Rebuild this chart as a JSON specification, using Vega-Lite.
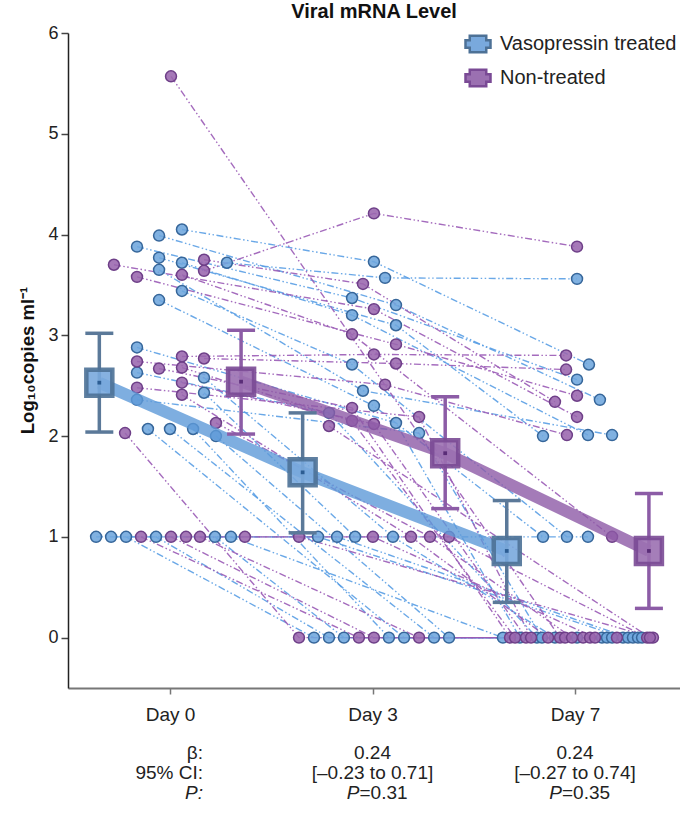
{
  "$schema": "https://vega.github.io/schema/vega-lite/v6.json",
  "width": 612,
  "height": 655,
  "autosize": {"type": "none"},
  "padding": {"left": 68, "top": 33, "right": 0, "bottom": 126},
  "background": "white",
  "title": {"text": "Viral mRNA Level", "font": "Liberation Sans", "fontSize": 20, "fontWeight": "bold", "color": "#111", "anchor": "middle", "frame": "group", "offset": 2},
  "config": {
    "view": {"stroke": null},
    "font": "Liberation Sans",
    "axis": {"grid": false, "labelFont": "Liberation Sans", "titleFont": "Liberation Sans"},
    "axisX": {"domainColor": "#777", "domainWidth": 2, "tickColor": "#777", "tickSize": 6, "tickWidth": 1.5, "labelFontSize": 19, "labelColor": "#222", "labelPadding": 11},
    "axisY": {"domainColor": "#222", "domainWidth": 1.5, "tickColor": "#444", "tickSize": 7, "tickWidth": 1.5, "labelFontSize": 18, "labelColor": "#222", "labelPadding": 3, "titleFontSize": 18.5, "titleFontWeight": "bold", "titleColor": "#111", "titleX": -35, "titleY": 327, "titleBaseline": "alphabetic", "titleAngle": 270},
    "legend": {"orient": "none", "legendX": 396, "legendY": -3, "padding": 0, "labelFontSize": 20, "labelFont": "Liberation Sans", "labelColor": "#222", "labelOffset": 8, "labelLimit": 0, "rowPadding": 6, "symbolSize": 625, "symbolStrokeWidth": 2.5, "symbolType": "M-1,-0.3H-0.66V-0.66H0.66V-0.3H1V0.3H0.66V0.66H-0.66V0.3H-1Z"}
  },
  "datasets": {
    "pts": [
      {"id": "B1", "g": "V", "pos": 5.9, "v": 4.05}, {"id": "B1", "g": "V", "pos": 100.7, "v": 3.73}, {"id": "B1", "g": "V", "pos": 206.9, "v": 2.71},
      {"id": "B2", "g": "V", "pos": -5.4, "v": 3.99}, {"id": "B2", "g": "V", "pos": 111.6, "v": 3.30}, {"id": "B2", "g": "V", "pos": 212.3, "v": 2.36},
      {"id": "B3", "g": "V", "pos": -16.3, "v": 3.88}, {"id": "B3", "g": "V", "pos": 89.9, "v": 3.37}, {"id": "B3", "g": "V", "pos": 201.0, "v": 2.56},
      {"id": "B4", "g": "V", "pos": -5.4, "v": 3.77}, {"id": "B4", "g": "V", "pos": 111.6, "v": 3.10}, {"id": "B4", "g": "V", "pos": 184.2, "v": 2.00},
      {"id": "B5", "g": "V", "pos": 5.9, "v": 3.72}, {"id": "B5", "g": "V", "pos": 89.9, "v": 3.20}, {"id": "B5", "g": "V", "pos": 206.4, "v": 2.01},
      {"id": "B6", "g": "V", "pos": 28.1, "v": 3.72}, {"id": "B6", "g": "V", "pos": 106.2, "v": 3.57}, {"id": "B6", "g": "V", "pos": 201.0, "v": 3.56},
      {"id": "B7", "g": "V", "pos": -5.4, "v": 3.65}, {"id": "B7", "g": "V", "pos": 95.3, "v": 2.45}, {"id": "B7", "g": "V", "pos": 218.3, "v": 2.01},
      {"id": "B8", "g": "V", "pos": 5.9, "v": 3.44}, {"id": "B8", "g": "V", "pos": 89.9, "v": 2.71}, {"id": "B8", "g": "V", "pos": 196.0, "v": 1},
      {"id": "B9", "g": "V", "pos": -5.4, "v": 3.35}, {"id": "B9", "g": "V", "pos": 100.7, "v": 2.30}, {"id": "B9", "g": "V", "pos": 184.2, "v": 1},
      {"id": "B10", "g": "V", "pos": -16.3, "v": 2.88}, {"id": "B10", "g": "V", "pos": 111.6, "v": 2.13}, {"id": "B10", "g": "V", "pos": 172.8, "v": 0},
      {"id": "B11", "g": "V", "pos": -16.3, "v": 2.63}, {"id": "B11", "g": "V", "pos": 78.5, "v": 2.23}, {"id": "B11", "g": "V", "pos": 181.2, "v": 0},
      {"id": "B12", "g": "V", "pos": -16.3, "v": 2.36}, {"id": "B12", "g": "V", "pos": 123.0, "v": 2.03}, {"id": "B12", "g": "V", "pos": 183.7, "v": 0},
      {"id": "B13", "g": "V", "pos": 16.8, "v": 2.58}, {"id": "B13", "g": "V", "pos": 110.1, "v": 1}, {"id": "B13", "g": "V", "pos": 190.1, "v": 0},
      {"id": "B14", "g": "V", "pos": 16.8, "v": 2.43}, {"id": "B14", "g": "V", "pos": 91.4, "v": 1}, {"id": "B14", "g": "V", "pos": 206.4, "v": 1},
      {"id": "B15", "g": "V", "pos": -10.9, "v": 2.07}, {"id": "B15", "g": "V", "pos": 115.6, "v": 0}, {"id": "B15", "g": "V", "pos": 201.0, "v": 0},
      {"id": "B16", "g": "V", "pos": 0, "v": 2.07}, {"id": "B16", "g": "V", "pos": 130.4, "v": 0}, {"id": "B16", "g": "V", "pos": 213.3, "v": 0},
      {"id": "B17", "g": "V", "pos": 11.4, "v": 2.07}, {"id": "B17", "g": "V", "pos": 108.1, "v": 0}, {"id": "B17", "g": "V", "pos": 215.8, "v": 0},
      {"id": "B18", "g": "V", "pos": 22.7, "v": 2.00}, {"id": "B18", "g": "V", "pos": 137.8, "v": 0}, {"id": "B18", "g": "V", "pos": 218.3, "v": 0},
      {"id": "B19", "g": "V", "pos": -36.5, "v": 1}, {"id": "B19", "g": "V", "pos": 73.1, "v": 1}, {"id": "B19", "g": "V", "pos": 223.7, "v": 0},
      {"id": "B20", "g": "V", "pos": -29.1, "v": 1}, {"id": "B20", "g": "V", "pos": 82.5, "v": 1}, {"id": "B20", "g": "V", "pos": 226.2, "v": 0},
      {"id": "B21", "g": "V", "pos": -21.7, "v": 1}, {"id": "B21", "g": "V", "pos": 71.1, "v": 0}, {"id": "B21", "g": "V", "pos": 228.6, "v": 0},
      {"id": "B22", "g": "V", "pos": -6.9, "v": 1}, {"id": "B22", "g": "V", "pos": 78.5, "v": 0}, {"id": "B22", "g": "V", "pos": 231.1, "v": 0},
      {"id": "B23", "g": "V", "pos": 22.2, "v": 1}, {"id": "B23", "g": "V", "pos": 85.9, "v": 0}, {"id": "B23", "g": "V", "pos": 233.1, "v": 0},
      {"id": "B24", "g": "V", "pos": 30.1, "v": 1}, {"id": "B24", "g": "V", "pos": 164.4, "v": 0},
      {"id": "N1", "g": "N", "pos": 0.5, "v": 5.57}, {"id": "N1", "g": "N", "pos": 192.6, "v": 0},
      {"id": "N2", "g": "N", "pos": 16.8, "v": 3.64}, {"id": "N2", "g": "N", "pos": 100.7, "v": 4.21}, {"id": "N2", "g": "N", "pos": 201.0, "v": 3.88},
      {"id": "N3", "g": "N", "pos": -27.7, "v": 3.70}, {"id": "N3", "g": "N", "pos": 100.7, "v": 3.26}, {"id": "N3", "g": "N", "pos": 201.0, "v": 2.19},
      {"id": "N4", "g": "N", "pos": 16.8, "v": 3.75}, {"id": "N4", "g": "N", "pos": 95.3, "v": 3.51}, {"id": "N4", "g": "N", "pos": 190.1, "v": 2.34},
      {"id": "N5", "g": "N", "pos": -16.3, "v": 3.58}, {"id": "N5", "g": "N", "pos": 111.6, "v": 2.91}, {"id": "N5", "g": "N", "pos": 201.0, "v": 2.40},
      {"id": "N6", "g": "N", "pos": 5.9, "v": 3.60}, {"id": "N6", "g": "N", "pos": 89.9, "v": 3.01}, {"id": "N6", "g": "N", "pos": 218.3, "v": 1},
      {"id": "N7", "g": "N", "pos": 5.9, "v": 2.79}, {"id": "N7", "g": "N", "pos": 100.7, "v": 2.81}, {"id": "N7", "g": "N", "pos": 195.6, "v": 2.80},
      {"id": "N8", "g": "N", "pos": 16.8, "v": 2.77}, {"id": "N8", "g": "N", "pos": 111.6, "v": 2.72}, {"id": "N8", "g": "N", "pos": 195.6, "v": 2.66},
      {"id": "N9", "g": "N", "pos": -16.3, "v": 2.74}, {"id": "N9", "g": "N", "pos": 106.2, "v": 2.51}, {"id": "N9", "g": "N", "pos": 196.0, "v": 2.01},
      {"id": "N10", "g": "N", "pos": -5.4, "v": 2.67}, {"id": "N10", "g": "N", "pos": 89.9, "v": 2.28}, {"id": "N10", "g": "N", "pos": 167.9, "v": 0},
      {"id": "N11", "g": "N", "pos": 5.9, "v": 2.68}, {"id": "N11", "g": "N", "pos": 89.9, "v": 2.15}, {"id": "N11", "g": "N", "pos": 170.4, "v": 0},
      {"id": "N12", "g": "N", "pos": 5.9, "v": 2.53}, {"id": "N12", "g": "N", "pos": 100.7, "v": 2.12}, {"id": "N12", "g": "N", "pos": 175.8, "v": 0},
      {"id": "N13", "g": "N", "pos": -16.3, "v": 2.48}, {"id": "N13", "g": "N", "pos": 123.0, "v": 2.19}, {"id": "N13", "g": "N", "pos": 178.3, "v": 0},
      {"id": "N14", "g": "N", "pos": 5.9, "v": 2.41}, {"id": "N14", "g": "N", "pos": 119.0, "v": 1}, {"id": "N14", "g": "N", "pos": 186.7, "v": 0},
      {"id": "N15", "g": "N", "pos": -22.2, "v": 2.03}, {"id": "N15", "g": "N", "pos": 63.7, "v": 0}, {"id": "N15", "g": "N", "pos": 195.1, "v": 0},
      {"id": "N16", "g": "N", "pos": 22.7, "v": 2.13}, {"id": "N16", "g": "N", "pos": 128.4, "v": 1}, {"id": "N16", "g": "N", "pos": 198.5, "v": 0},
      {"id": "N17", "g": "N", "pos": -14.3, "v": 1}, {"id": "N17", "g": "N", "pos": 93.3, "v": 0}, {"id": "N17", "g": "N", "pos": 204.0, "v": 0},
      {"id": "N18", "g": "N", "pos": 0.5, "v": 1}, {"id": "N18", "g": "N", "pos": 100.7, "v": 0}, {"id": "N18", "g": "N", "pos": 207.4, "v": 0},
      {"id": "N19", "g": "N", "pos": 7.9, "v": 1}, {"id": "N19", "g": "N", "pos": 100.2, "v": 1}, {"id": "N19", "g": "N", "pos": 209.9, "v": 0},
      {"id": "N20", "g": "N", "pos": 14.8, "v": 1}, {"id": "N20", "g": "N", "pos": 123.0, "v": 0}, {"id": "N20", "g": "N", "pos": 220.7, "v": 0},
      {"id": "N21", "g": "N", "pos": 37.0, "v": 1}, {"id": "N21", "g": "N", "pos": 137.8, "v": 1}, {"id": "N21", "g": "N", "pos": 235.6, "v": 0},
      {"id": "N22", "g": "N", "pos": 63.7, "v": 1}, {"id": "N22", "g": "N", "pos": 238.5, "v": 0},
      {"id": "N23", "g": "N", "pos": 78.5, "v": 2.10}, {"id": "N23", "g": "N", "pos": 237.0, "v": 0}
    ],
    "means": [
      {"g": "V", "pos": -34.9, "m": 2.53, "lo": 2.04, "hi": 3.02},
      {"g": "V", "pos": 65.5, "m": 1.64, "lo": 1.04, "hi": 2.23},
      {"g": "V", "pos": 166.3, "m": 0.86, "lo": 0.35, "hi": 1.36},
      {"g": "N", "pos": 35.1, "m": 2.54, "lo": 2.02, "hi": 3.05},
      {"g": "N", "pos": 135.9, "m": 1.83, "lo": 1.28, "hi": 2.39},
      {"g": "N", "pos": 236.5, "m": 0.86, "lo": 0.29, "hi": 1.43}
    ],
    "stats": [
      {"day": 0, "row": -1.2, "kind": "lab", "text": "β:"},
      {"day": 0, "row": -1.4, "kind": "lab", "text": "95% CI:"},
      {"day": 0, "row": -1.6, "kind": "labit", "text": "P:"},
      {"day": 100, "row": -1.2, "kind": "val", "text": "0.24"},
      {"day": 100, "row": -1.4, "kind": "val", "text": "[–0.23 to 0.71]"},
      {"day": 100, "row": -1.6, "kind": "pit", "text": "P"},
      {"day": 100, "row": -1.6, "kind": "pval", "text": "=0.31"},
      {"day": 200, "row": -1.2, "kind": "val", "text": "0.24"},
      {"day": 200, "row": -1.4, "kind": "val", "text": "[–0.27 to 0.74]"},
      {"day": 200, "row": -1.6, "kind": "pit", "text": "P"},
      {"day": 200, "row": -1.6, "kind": "pval", "text": "=0.35"}
    ]
  },
  "layer": [
    {
      "data": {"name": "pts"},
      "mark": {"type": "line", "strokeWidth": 1.4, "strokeDash": [7, 2.5, 1.5, 2.5, 1.5, 2.5], "opacity": 0.9},
      "encoding": {
        "x": {"field": "pos", "type": "quantitative", "scale": {"domain": [-50.37, 251.85], "nice": false, "zero": false},
              "axis": {"values": [0, 100, 200], "title": null, "labelExpr": "datum.value == 0 ? 'Day 0' : (datum.value == 100 ? 'Day 3' : 'Day 7')"}},
        "y": {"field": "v", "type": "quantitative", "scale": {"domain": [-0.5, 6], "nice": false, "zero": false},
              "axis": {"values": [0, 1, 2, 3, 4, 5, 6], "format": "d", "title": "Log₁₀copies ml⁻¹"}},
        "detail": {"field": "id"},
        "color": {"field": "g", "type": "nominal", "scale": {"domain": ["V", "N"], "range": ["#5a9fe4", "#9a5bb6"]}, "legend": null}
      }
    },
    {
      "data": {"name": "pts"},
      "mark": {"type": "circle", "size": 120, "strokeWidth": 1.5, "fillOpacity": 0.88, "opacity": 1},
      "encoding": {
        "x": {"field": "pos", "type": "quantitative"},
        "y": {"field": "v", "type": "quantitative"},
        "fill": {"field": "g", "type": "nominal", "scale": {"domain": ["V", "N"], "range": ["#6ea6dd", "#9a67ae"]}, "legend": null},
        "stroke": {"field": "g", "type": "nominal", "scale": {"domain": ["V", "N"], "range": ["#36669a", "#6e3f88"]}, "legend": null}
      }
    },
    {
      "data": {"name": "means"},
      "mark": {"type": "line", "strokeWidth": 12, "opacity": 0.8, "strokeCap": "butt"},
      "encoding": {
        "x": {"field": "pos", "type": "quantitative"},
        "y": {"field": "m", "type": "quantitative"},
        "color": {"field": "g", "type": "nominal", "scale": {"domain": ["V", "N"], "range": ["#5e9ad8", "#8d5aa6"]}, "legend": null}
      }
    },
    {
      "data": {"name": "means"},
      "mark": {"type": "rule", "strokeWidth": 3.5},
      "encoding": {
        "x": {"field": "pos", "type": "quantitative"},
        "y": {"field": "lo", "type": "quantitative"},
        "y2": {"field": "hi"},
        "color": {"field": "g", "type": "nominal", "scale": {"domain": ["V", "N"], "range": ["#5b7999", "#8c5ca6"]}, "legend": null}
      }
    },
    {
      "data": {"name": "means"},
      "transform": [{"fold": ["lo", "hi"], "as": ["end", "ev"]}],
      "mark": {"type": "tick", "orient": "horizontal", "size": 28, "thickness": 3.5, "opacity": 1},
      "encoding": {
        "x": {"field": "pos", "type": "quantitative"},
        "y": {"field": "ev", "type": "quantitative"},
        "color": {"field": "g", "type": "nominal", "scale": {"domain": ["V", "N"], "range": ["#5b7999", "#8c5ca6"]}, "legend": null}
      }
    },
    {
      "data": {"name": "means"},
      "mark": {"type": "point", "shape": "square", "filled": true, "size": 676, "strokeWidth": 4.5, "fillOpacity": 0.9, "strokeOpacity": 0.9},
      "encoding": {
        "x": {"field": "pos", "type": "quantitative"},
        "y": {"field": "m", "type": "quantitative"},
        "fill": {"field": "g", "type": "nominal", "scale": {"domain": ["V", "N"], "range": ["#79a9dd", "#9b70b1"]},
                 "legend": {"title": null, "labelExpr": "datum.label == 'V' ? 'Vasopressin treated' : 'Non-treated'"}},
        "stroke": {"field": "g", "type": "nominal", "scale": {"domain": ["V", "N"], "range": ["#4d7196", "#7a4a95"]},
                 "legend": {"title": null, "labelExpr": "datum.label == 'V' ? 'Vasopressin treated' : 'Non-treated'"}}
      }
    },
    {
      "data": {"name": "means"},
      "mark": {"type": "point", "shape": "square", "filled": true, "size": 14, "opacity": 1},
      "encoding": {
        "x": {"field": "pos", "type": "quantitative"},
        "y": {"field": "m", "type": "quantitative"},
        "color": {"field": "g", "type": "nominal", "scale": {"domain": ["V", "N"], "range": ["#2c5d93", "#5a2d78"]}, "legend": null}
      }
    },
    {
      "data": {"name": "stats"},
      "transform": [{"filter": "datum.kind == 'lab'"}],
      "mark": {"type": "text", "align": "right", "baseline": "alphabetic", "dx": 33, "fontSize": 19, "font": "Liberation Sans", "color": "#222"},
      "encoding": {"x": {"field": "day", "type": "quantitative"}, "y": {"field": "row", "type": "quantitative"}, "text": {"field": "text"}}
    },
    {
      "data": {"name": "stats"},
      "transform": [{"filter": "datum.kind == 'labit'"}],
      "mark": {"type": "text", "align": "right", "baseline": "alphabetic", "dx": 33, "fontSize": 19, "fontStyle": "italic", "font": "Liberation Sans", "color": "#222"},
      "encoding": {"x": {"field": "day", "type": "quantitative"}, "y": {"field": "row", "type": "quantitative"}, "text": {"field": "text"}}
    },
    {
      "data": {"name": "stats"},
      "transform": [{"filter": "datum.kind == 'val'"}],
      "mark": {"type": "text", "align": "center", "baseline": "alphabetic", "fontSize": 19, "font": "Liberation Sans", "color": "#222"},
      "encoding": {"x": {"field": "day", "type": "quantitative"}, "y": {"field": "row", "type": "quantitative"}, "text": {"field": "text"}}
    },
    {
      "data": {"name": "stats"},
      "transform": [{"filter": "datum.kind == 'pit'"}],
      "mark": {"type": "text", "align": "right", "baseline": "alphabetic", "dx": -13, "fontSize": 19, "fontStyle": "italic", "font": "Liberation Sans", "color": "#222"},
      "encoding": {"x": {"field": "day", "type": "quantitative"}, "y": {"field": "row", "type": "quantitative"}, "text": {"field": "text"}}
    },
    {
      "data": {"name": "stats"},
      "transform": [{"filter": "datum.kind == 'pval'"}],
      "mark": {"type": "text", "align": "left", "baseline": "alphabetic", "dx": -13, "fontSize": 19, "font": "Liberation Sans", "color": "#222"},
      "encoding": {"x": {"field": "day", "type": "quantitative"}, "y": {"field": "row", "type": "quantitative"}, "text": {"field": "text"}}
    }
  ],
  "resolve": {"scale": {"color": "independent", "fill": "independent", "stroke": "independent"}}
}
